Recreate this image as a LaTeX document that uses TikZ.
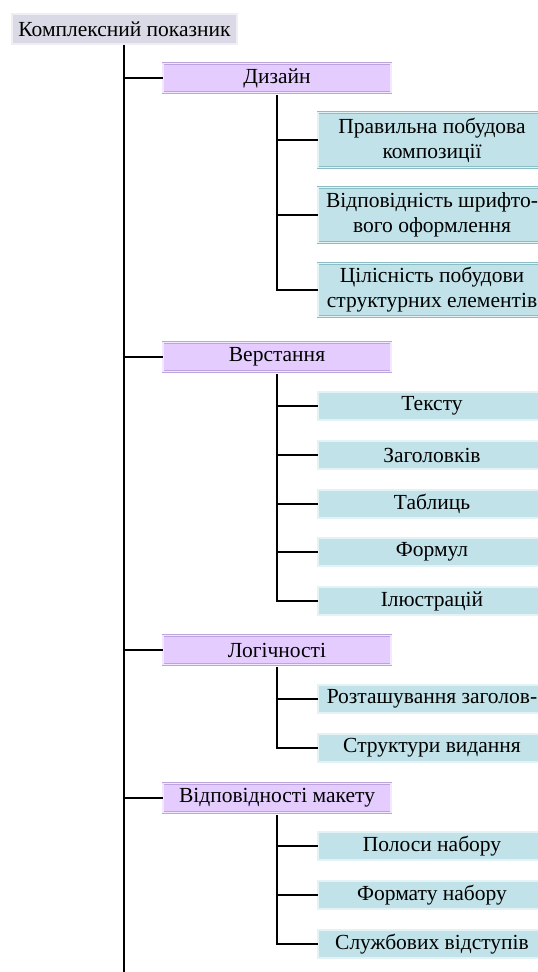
\documentclass[tikz,border=0pt]{standalone}
\usepackage{fontspec}
\setmainfont{Liberation Serif}
\definecolor{rootfill}{RGB}{218,218,230}
\definecolor{rootline}{RGB}{170,170,186}
\definecolor{razdfill}{RGB}{228,204,255}
\definecolor{razdline}{RGB}{190,164,222}
\definecolor{punktfill}{RGB}{192,226,232}
\definecolor{punktline}{RGB}{140,188,196}
\begin{document}
\begin{tikzpicture}[x=1pt,y=-1pt,
   font=\rmfamily\fontsize{21.5}{25}\selectfont,
   rootbox/.style={draw=rootline,fill=rootfill,line width=.6pt,
     double=white!55!rootfill,double distance=1.4pt,
     minimum width=225pt,minimum height=30pt,inner sep=0pt},
   razdbox/.style={draw=razdline,fill=razdfill,line width=.6pt,
     double=white!55!razdfill,double distance=1.4pt,
     minimum width=228pt,minimum height=29pt,inner sep=0pt},
   punktbox/.style={draw=punktline,fill=punktfill,line width=.6pt,
     double=white!55!punktfill,double distance=1.4pt,
     minimum width=228pt,minimum height=28pt,inner sep=0pt,align=center},
   stovbur/.style={line width=2pt},
   gilka/.style={line width=1.4pt}]
   \clip (0,0) rectangle (538,972);
   \node[rootbox] (kp) at (124.5,29) {Комплексний показник};
   % rozdily
   \node[razdbox] (dz) at (277,78) {Дизайн};
   \node[razdbox] (vr) at (277,357) {Верстання};
   \node[razdbox] (lg) at (277,650) {Логічності};
   \node[razdbox] (vm) at (277,798) {Відповідності макету};
   % punkty
   \node[punktbox,minimum height=55pt] (dz1) at (432,140) {Правильна побудова\\композиції};
   \node[punktbox,minimum height=55pt] (dz2) at (432,215) {Відповідність шрифто-\\вого оформлення};
   \node[punktbox,minimum height=53pt] (dz3) at (432,290) {Цілісність побудови\\структурних елементів};
   \node[punktbox] (vr1) at (432,406) {Тексту};
   \node[punktbox] (vr2) at (432,455) {Заголовків};
   \node[punktbox] (vr3) at (432,504) {Таблиць};
   \node[punktbox] (vr4) at (432,552) {Формул};
   \node[punktbox] (vr5) at (432,601) {Ілюстрацій};
   \node[punktbox] (lg1) at (432,699) {Розташування заголов-};
   \node[punktbox] (lg2) at (432,748) {Структури видання};
   \node[punktbox] (vm1) at (432,846) {Полоси набору};
   \node[punktbox] (vm2) at (432,895) {Формату набору};
   \node[punktbox] (vm3) at (432,944) {Службових відступів};
   % stovbur
   \coordinate (trunk) at (124,45);
   \coordinate (trunkend) at (124,972);
   \draw[stovbur] (trunk) -- (trunkend);
   \foreach \r in {dz,vr,lg,vm}
     \draw[gilka] (trunk |- \r) -- (\r.west);
   % gilky
   \draw[stovbur] ([yshift=-2pt]dz.south) |- (dz3.west);
   \draw[stovbur] ([yshift=-2pt]vr.south) |- (vr5.west);
   \draw[stovbur] ([yshift=-2pt]lg.south) |- (lg2.west);
   \draw[stovbur] ([yshift=-2pt]vm.south) |- (vm3.west);
   \foreach \p in {dz1,dz2,vr1,vr2,vr3,vr4,lg1,vm1,vm2}
     \draw[gilka] (dz.south |- \p) -- (\p.west);
\end{tikzpicture}
\end{document}
